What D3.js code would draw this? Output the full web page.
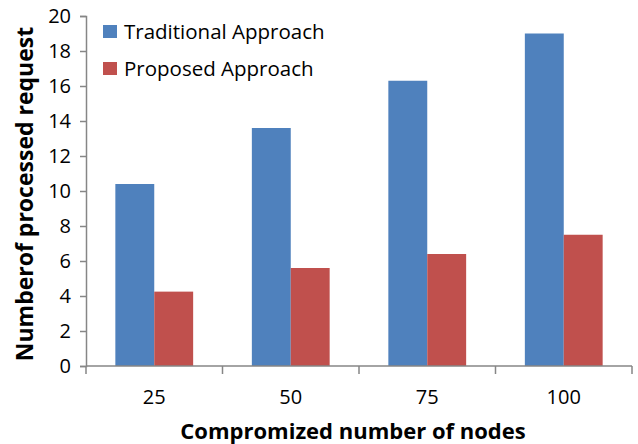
<!DOCTYPE html>
<html>
<head>
<meta charset="utf-8">
<script src="https://cdn.jsdelivr.net/npm/d3@7"></script>
<style>
  body { margin: 0; background: #fff; }
  svg { display: block; }
  text { font-family: "Open Sans", "Liberation Sans", sans-serif; fill: #000; }
</style>
</head>
<body>
<svg id="chart" width="638" height="444"></svg>
<script>
// Processed requests vs. number of compromised nodes
const categories = ["25", "50", "75", "100"];
const seriesNames = ["Traditional Approach", "Proposed Approach"];
const traditional = [10.4, 13.6, 16.3, 19.0];
const proposed = [4.25, 5.6, 6.4, 7.5];
const yTicks = [0, 2, 4, 6, 8, 10, 12, 14, 16, 18, 20];
const colors = ["#4F81BD", "#C0504D"];

const svg = d3.select("#chart");
const margin = { left: 86, right: 6, top: 16, bottom: 78 };
const W = 638, H = 444;

const x = d3.scaleBand().domain(categories)
  .range([margin.left, W - margin.right]).paddingInner(0.43).paddingOuter(0.215);
const xStep = d3.scaleBand().domain(categories).range([margin.left, W - margin.right]);
const sub = d3.scaleBand().domain(seriesNames).range([0, x.bandwidth()]);
const y = d3.scaleLinear().domain([0, 20]).range([H - margin.bottom, margin.top]);

const axisColor = "#868686";

// bars
const data = categories.map((c, i) => ({ c, vals: [traditional[i], proposed[i]] }));
const groups = svg.append("g").selectAll("g").data(data).join("g")
  .attr("transform", d => `translate(${x(d.c)},0)`);
groups.selectAll("rect").data(d => d.vals.map((v, j) => ({ v, j })))
  .join("rect")
  .attr("x", d => sub(seriesNames[d.j]))
  .attr("width", sub.bandwidth())
  .attr("y", d => y(d.v))
  .attr("height", d => y(0) - y(d.v))
  .attr("fill", d => colors[d.j]);

// y axis
const yAxis = svg.append("g").attr("transform", `translate(${margin.left},0)`)
  .call(d3.axisLeft(y).tickValues(yTicks).tickSize(6).tickPadding(9));
yAxis.select(".domain").attr("stroke", axisColor).attr("stroke-width", 1.5);
yAxis.selectAll(".tick line").attr("stroke", axisColor).attr("stroke-width", 1.5);
yAxis.selectAll(".tick text").attr("font-size", 20).attr("fill", "#000")
  .attr("font-family", "'Open Sans', sans-serif");

// x axis
const xAxisG = svg.append("g").attr("transform", `translate(0,${y(0)})`);
xAxisG.append("line").attr("x1", margin.left).attr("x2", W - margin.right)
  .attr("stroke", axisColor).attr("stroke-width", 1.5);
const bounds = categories.map(c => xStep(c)).concat([xStep(categories[categories.length - 1]) + xStep.step()]);
xAxisG.selectAll(".xt").data(bounds).join("line")
  .attr("x1", d => d).attr("x2", d => d).attr("y1", 0).attr("y2", 8)
  .attr("stroke", axisColor).attr("stroke-width", 1.5);
xAxisG.selectAll(".xl").data(categories).join("text")
  .attr("x", d => x(d) + x.bandwidth() / 2).attr("y", 38)
  .attr("text-anchor", "middle").attr("font-size", 20).text(d => d);

// axis titles
svg.append("text").attr("x", 353).attr("y", 439)
  .attr("text-anchor", "middle").attr("font-size", 22).attr("font-weight", "bold")
  .text("Compromized number of nodes");
svg.append("text").attr("transform", `translate(33,194) rotate(-90)`)
  .attr("text-anchor", "middle").attr("font-size", 23).attr("font-weight", "bold")
  .text("Numberof processed request");

// legend
const legend = svg.append("g").selectAll("g").data(seriesNames).join("g")
  .attr("transform", (d, i) => `translate(103,${25 + i * 37})`);
legend.append("rect").attr("width", 14).attr("height", 13).attr("fill", (d, i) => colors[i]);
legend.append("text").attr("x", 21).attr("y", 14).attr("font-size", 20.5).text(d => d);
</script>
</body>
</html>
